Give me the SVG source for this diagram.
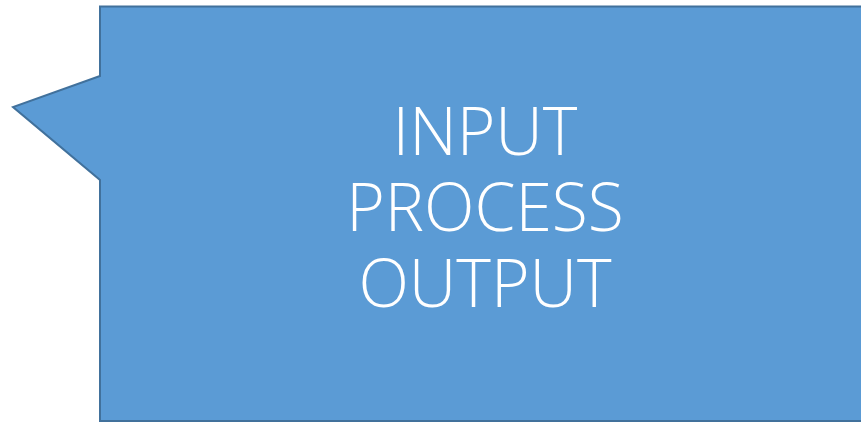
<svg xmlns="http://www.w3.org/2000/svg" width="861" height="423" viewBox="0 0 861 423">
<style>
.shape{fill:#5B9BD5;stroke:#41719C;stroke-width:2}
.lbl{fill:#FFFFFF;font-family:"Open Sans","Noto Sans","Liberation Sans",sans-serif;font-weight:300;font-size:66px;text-anchor:middle}
</style>
<g id="callout">
<path class="shape" d="M100,6.5 L870,6.5 L870,421 L100,421 L100,180 L13,107 L100,76 Z"/>
<text class="lbl"><tspan x="485" y="155">INPUT</tspan><tspan x="485" y="231">PROCESS</tspan><tspan x="485" y="307">OUTPUT</tspan></text>
</g>
<g id="connectors"/>
</svg>
